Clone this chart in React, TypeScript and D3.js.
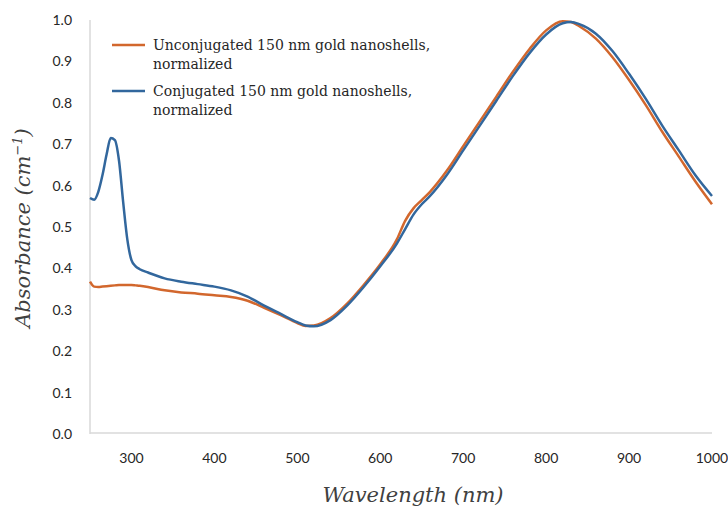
import React, { useEffect, useRef } from "react";
import * as d3 from "d3";

const wavelengths = [250, 255, 260, 265, 270, 275, 280, 285, 290, 295, 300, 305, 310, 320, 340, 360, 380, 400, 420, 440, 460, 480, 500, 510, 520, 540, 560, 580, 600, 620, 630, 640, 650, 660, 680, 700, 720, 740, 760, 780, 800, 820, 830, 840, 860, 880, 900, 920, 940, 960, 980, 1000];

const unconjugated = [0.368, 0.356, 0.355, 0.356, 0.357, 0.358, 0.359, 0.36, 0.36, 0.36, 0.36, 0.359, 0.358, 0.355, 0.347, 0.342, 0.339, 0.335, 0.331, 0.322, 0.305, 0.287, 0.268, 0.261, 0.262, 0.28, 0.315, 0.36, 0.41, 0.47, 0.515, 0.545, 0.565, 0.585, 0.635, 0.695, 0.755, 0.815, 0.875, 0.93, 0.975, 0.997, 0.995, 0.985, 0.955, 0.91, 0.855, 0.795, 0.73, 0.67, 0.61, 0.555];

const conjugated = [0.57, 0.566, 0.585, 0.625, 0.675, 0.715, 0.71, 0.66, 0.56, 0.47, 0.42, 0.405, 0.398, 0.39, 0.376, 0.368, 0.362, 0.356, 0.347, 0.332, 0.31, 0.29, 0.27, 0.262, 0.26, 0.275, 0.31, 0.355, 0.405, 0.46, 0.495, 0.53, 0.555, 0.575, 0.625, 0.685, 0.745, 0.805, 0.865, 0.92, 0.965, 0.992, 0.995, 0.99, 0.967, 0.925, 0.87, 0.81, 0.745, 0.685, 0.625, 0.575];

const xTicks = [300, 400, 500, 600, 700, 800, 900, 1000];
const yTicks = [0, 0.1, 0.2, 0.3, 0.4, 0.5, 0.6, 0.7, 0.8, 0.9, 1.0];

const seriesNames = [
  ["Unconjugated 150 nm gold nanoshells,", "normalized"],
  ["Conjugated 150 nm gold nanoshells,", "normalized"],
];
const colors = ["#d2672d", "#32679d"];

export default function App() {
  const ref = useRef<SVGSVGElement>(null);

  useEffect(() => {
    const svg = d3.select(ref.current);
    svg.selectAll("*").remove();

    const left = 90, right = 712, top = 20, bottom = 434;
    const x = d3.scaleLinear().domain([250, 1000]).range([left, right]);
    const y = d3.scaleLinear().domain([0, 1]).range([bottom, top]);

    // axis lines
    svg.append("line")
      .attr("x1", left).attr("x2", left).attr("y1", top).attr("y2", bottom)
      .attr("stroke", "#d9d9d9").attr("stroke-width", 1.5);
    svg.append("line")
      .attr("x1", left).attr("x2", right).attr("y1", bottom - 1).attr("y2", bottom - 1)
      .attr("stroke", "#d9d9d9").attr("stroke-width", 1.5);

    svg.selectAll(".ytick")
      .data(yTicks)
      .enter()
      .append("text")
      .attr("x", 72)
      .attr("y", (d) => y(d) + 5)
      .attr("text-anchor", "end")
      .attr("font-family", "Lato")
      .attr("font-size", 14)
      .attr("fill", "#262626")
      .text((d) => d.toFixed(1));

    svg.selectAll(".xtick")
      .data(xTicks)
      .enter()
      .append("text")
      .attr("x", (d) => x(d))
      .attr("y", 463)
      .attr("text-anchor", "middle")
      .attr("font-family", "Lato")
      .attr("font-size", 14)
      .attr("fill", "#262626")
      .text((d) => d);

    svg.append("text")
      .attr("x", 413).attr("y", 502)
      .attr("text-anchor", "middle")
      .attr("font-family", "DejaVu Serif")
      .attr("font-style", "italic")
      .attr("font-size", 21)
      .attr("fill", "#404040")
      .text("Wavelength (nm)");

    const yt = svg.append("text")
      .attr("transform", "translate(30,228) rotate(-90)")
      .attr("text-anchor", "middle")
      .attr("font-family", "DejaVu Serif")
      .attr("font-style", "italic")
      .attr("font-size", 21)
      .attr("fill", "#404040");
    yt.append("tspan").text("Absorbance (cm");
    yt.append("tspan").attr("dy", -8).attr("font-size", 13).text("−1");
    yt.append("tspan").attr("dy", 8).text(")");

    const line = d3.line<number>()
      .x((d, i) => x(wavelengths[i]))
      .y((d) => y(d))
      .curve(d3.curveMonotoneX);

    [unconjugated, conjugated].forEach((s, i) => {
      svg.append("path")
        .attr("d", line(s))
        .attr("fill", "none")
        .attr("stroke", colors[i])
        .attr("stroke-width", 2.5);
    });

    seriesNames.forEach((lines, i) => {
      const ly = 45 + i * 46;
      svg.append("line")
        .attr("x1", 112).attr("x2", 145).attr("y1", ly).attr("y2", ly)
        .attr("stroke", colors[i]).attr("stroke-width", 2.5);
      lines.forEach((t, j) => {
        svg.append("text")
          .attr("x", 153)
          .attr("y", ly + 5 + j * 19)
          .attr("font-family", "DejaVu Serif")
          .attr("font-size", 14)
          .attr("fill", "#262626")
          .text(t);
      });
    });
  }, []);

  return (
    <svg
      ref={ref}
      width={728}
      height={507}
      style={{ position: "absolute", left: 0, top: 0, background: "#fff" }}
    />
  );
}
